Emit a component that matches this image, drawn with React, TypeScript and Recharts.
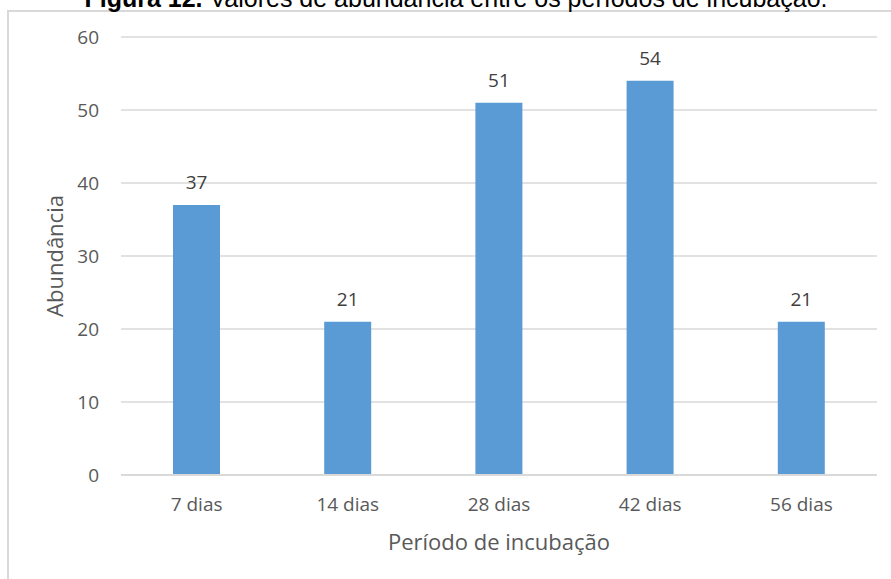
import { Bar, BarChart, CartesianGrid, LabelList, XAxis, YAxis } from "recharts";

const periods = ["7 dias", "14 dias", "28 dias", "42 dias", "56 dias"];
const abundance = [37, 21, 51, 54, 21];
const yTicks = [0, 10, 20, 30, 40, 50, 60];

const data = periods.map((period, i) => ({ period, value: abundance[i] }));

const font = "'Open Sans', sans-serif";

export default function App() {
  return (
    <div style={{ position: "absolute", left: 0, top: 0, width: 891, height: 579, overflow: "hidden", background: "#fff" }}>
      {/* frame around the chart, runs off the right and bottom edges */}
      <div
        style={{
          position: "absolute",
          left: 7,
          top: 10,
          width: 920,
          height: 620,
          borderLeft: "2px solid #d9d9d9",
          borderTop: "2px solid #d9d9d9",
        }}
      />
      {/* caption above the frame, only its lower part fits on the page */}
      <div
        style={{
          position: "absolute",
          left: 0,
          top: -14,
          width: 912,
          textAlign: "center",
          fontFamily: "'Liberation Sans', Arial, sans-serif",
          fontSize: 25,
          lineHeight: "25px",
          color: "#000",
          whiteSpace: "nowrap",
        }}
      >
        <b>Figura 12.</b> Valores de abundância entre os períodos de incubação.
      </div>
      <div style={{ position: "absolute", left: 0, top: 0 }}>
        <BarChart
          width={891}
          height={579}
          data={data}
          margin={{ top: 37, right: 14, bottom: 24, left: 0 }}
          style={{ fontFamily: font }}
        >
          <CartesianGrid vertical={false} stroke="#d9d9d9" strokeWidth={1.5} />
          <XAxis
            dataKey="period"
            height={80}
            tickLine={false}
            tickSize={0}
            tickMargin={23}
            axisLine={{ stroke: "#d9d9d9", strokeWidth: 2 }}
            tick={{ fill: "#595959", fontSize: 19, fontFamily: font }}
            label={{
              value: "Período de incubação",
              position: "insideBottom",
              offset: 5,
              fill: "#595959",
              fontSize: 22,
              fontFamily: font,
            }}
          />
          <YAxis
            width={121}
            domain={[0, 60]}
            ticks={yTicks}
            axisLine={false}
            tickLine={false}
            tickSize={0}
            tickMargin={22}
            tick={{ fill: "#595959", fontSize: 19, fontFamily: font }}
            label={{
              value: "Abundância",
              angle: -90,
              position: "center",
              dx: -5,
              fill: "#595959",
              fontSize: 22,
              fontFamily: font,
            }}
          />
          <Bar dataKey="value" fill="#5b9bd5" barSize={47} isAnimationActive={false}>
            <LabelList dataKey="value" position="top" offset={16} fill="#404040" fontSize={19} fontFamily={font} />
          </Bar>
        </BarChart>
      </div>
    </div>
  );
}
